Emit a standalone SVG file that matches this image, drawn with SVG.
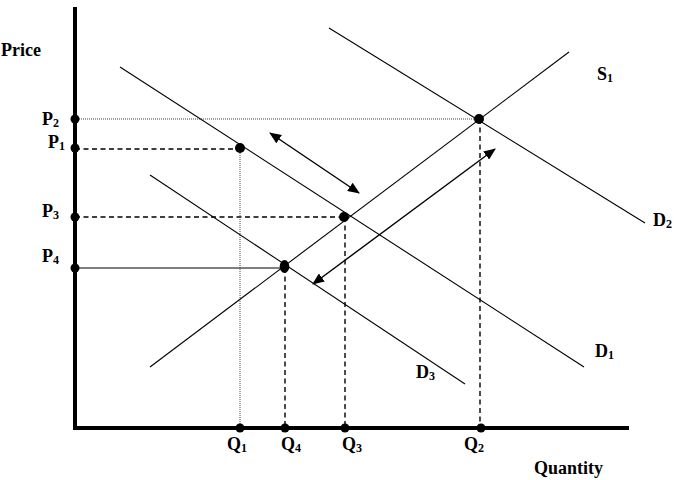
<svg xmlns="http://www.w3.org/2000/svg" width="688" height="480" viewBox="0 0 688 480">
<defs>
<style>
.lbl{font-family:"Liberation Serif","Times New Roman",serif;font-weight:bold;font-size:18px;fill:#000}
.sub{font-size:12px}
.curve{stroke:#000;stroke-width:1.1;fill:none}
.axis{stroke:#000;stroke-width:4;fill:none}
.dash{stroke:#000;stroke-width:1.4;stroke-dasharray:5,3.5;fill:none}
.dot{stroke:#444;stroke-width:1;stroke-dasharray:1,1;fill:none}
.thin{stroke:#000;stroke-width:1;fill:none}
.arr{stroke:#000;stroke-width:1.4;fill:none;marker-start:url(#ah);marker-end:url(#ah)}
</style>
<marker id="ah" viewBox="0 0 12 10" refX="11" refY="5" markerWidth="12" markerHeight="10" markerUnits="userSpaceOnUse" orient="auto-start-reverse">
<path d="M0,0 L12,5 L0,10 Z" fill="#000"/>
</marker>
</defs>
<rect width="688" height="480" fill="#fff"/>
<g id="connectors">
<!-- guide lines -->
<line class="dot" x1="75" y1="119" x2="480" y2="119"/>
<line class="dash" x1="75" y1="149" x2="239" y2="149"/>
<line class="dash" x1="75" y1="217" x2="345" y2="217"/>
<line class="thin" x1="75" y1="268" x2="284" y2="268"/>
<line class="dot" x1="240" y1="149" x2="240" y2="428"/>
<line class="dash" x1="285" y1="268" x2="285" y2="428"/>
<line class="dash" x1="345" y1="217" x2="345" y2="428"/>
<line class="dash" x1="480" y1="119" x2="480" y2="428"/>
<!-- arrows -->
<line class="arr" x1="270" y1="133" x2="359" y2="193"/>
<line class="arr" x1="495" y1="149" x2="313" y2="284"/>
</g>
<g id="axes">
<line class="axis" x1="75" y1="7" x2="75" y2="430"/>
<line class="axis" x1="73" y1="428" x2="629" y2="428"/>
</g>
<g id="S1">
<line class="curve" x1="150" y1="367" x2="569" y2="52"/>
<text class="lbl" x="597" y="80">S<tspan class="sub" dy="2">1</tspan></text>
</g>
<g id="D2">
<line class="curve" x1="329" y1="28" x2="645" y2="223"/>
<text class="lbl" x="653" y="226">D<tspan class="sub" dy="2">2</tspan></text>
</g>
<g id="D1">
<line class="curve" x1="120" y1="67" x2="584" y2="367"/>
<text class="lbl" x="595" y="357">D<tspan class="sub" dy="2">1</tspan></text>
</g>
<g id="D3">
<line class="curve" x1="150" y1="175" x2="465" y2="384"/>
<text class="lbl" x="416" y="378">D<tspan class="sub" dy="2">3</tspan></text>
</g>
<g id="points">
<circle cx="75" cy="119" r="4.5"/>
<circle cx="75" cy="148" r="4.5"/>
<circle cx="75" cy="217" r="4.5"/>
<circle cx="75" cy="268" r="4.5"/>
<circle cx="240" cy="428" r="4.5"/>
<circle cx="285" cy="428" r="4.5"/>
<circle cx="345" cy="428" r="4.5"/>
<circle cx="481" cy="428" r="4.5"/>
<circle cx="240" cy="148" r="5"/>
<circle cx="344" cy="217" r="5"/>
<circle cx="479" cy="119" r="5"/>
<ellipse cx="284.5" cy="266.5" rx="4.8" ry="6.5"/>
</g>
<g id="labels">
<text class="lbl" x="41" y="56" text-anchor="end">Price</text>
<text class="lbl" x="42" y="125">P<tspan class="sub" dy="2">2</tspan></text>
<text class="lbl" x="48" y="148">P<tspan class="sub" dy="2">1</tspan></text>
<text class="lbl" x="42" y="217">P<tspan class="sub" dy="2">3</tspan></text>
<text class="lbl" x="42" y="262">P<tspan class="sub" dy="2">4</tspan></text>
<text class="lbl" x="227" y="450">Q<tspan class="sub" dy="2">1</tspan></text>
<text class="lbl" x="281" y="450">Q<tspan class="sub" dy="2">4</tspan></text>
<text class="lbl" x="342" y="450">Q<tspan class="sub" dy="2">3</tspan></text>
<text class="lbl" x="464" y="450">Q<tspan class="sub" dy="2">2</tspan></text>
<text class="lbl" x="534" y="474">Quantity</text>
</g>
</svg>
